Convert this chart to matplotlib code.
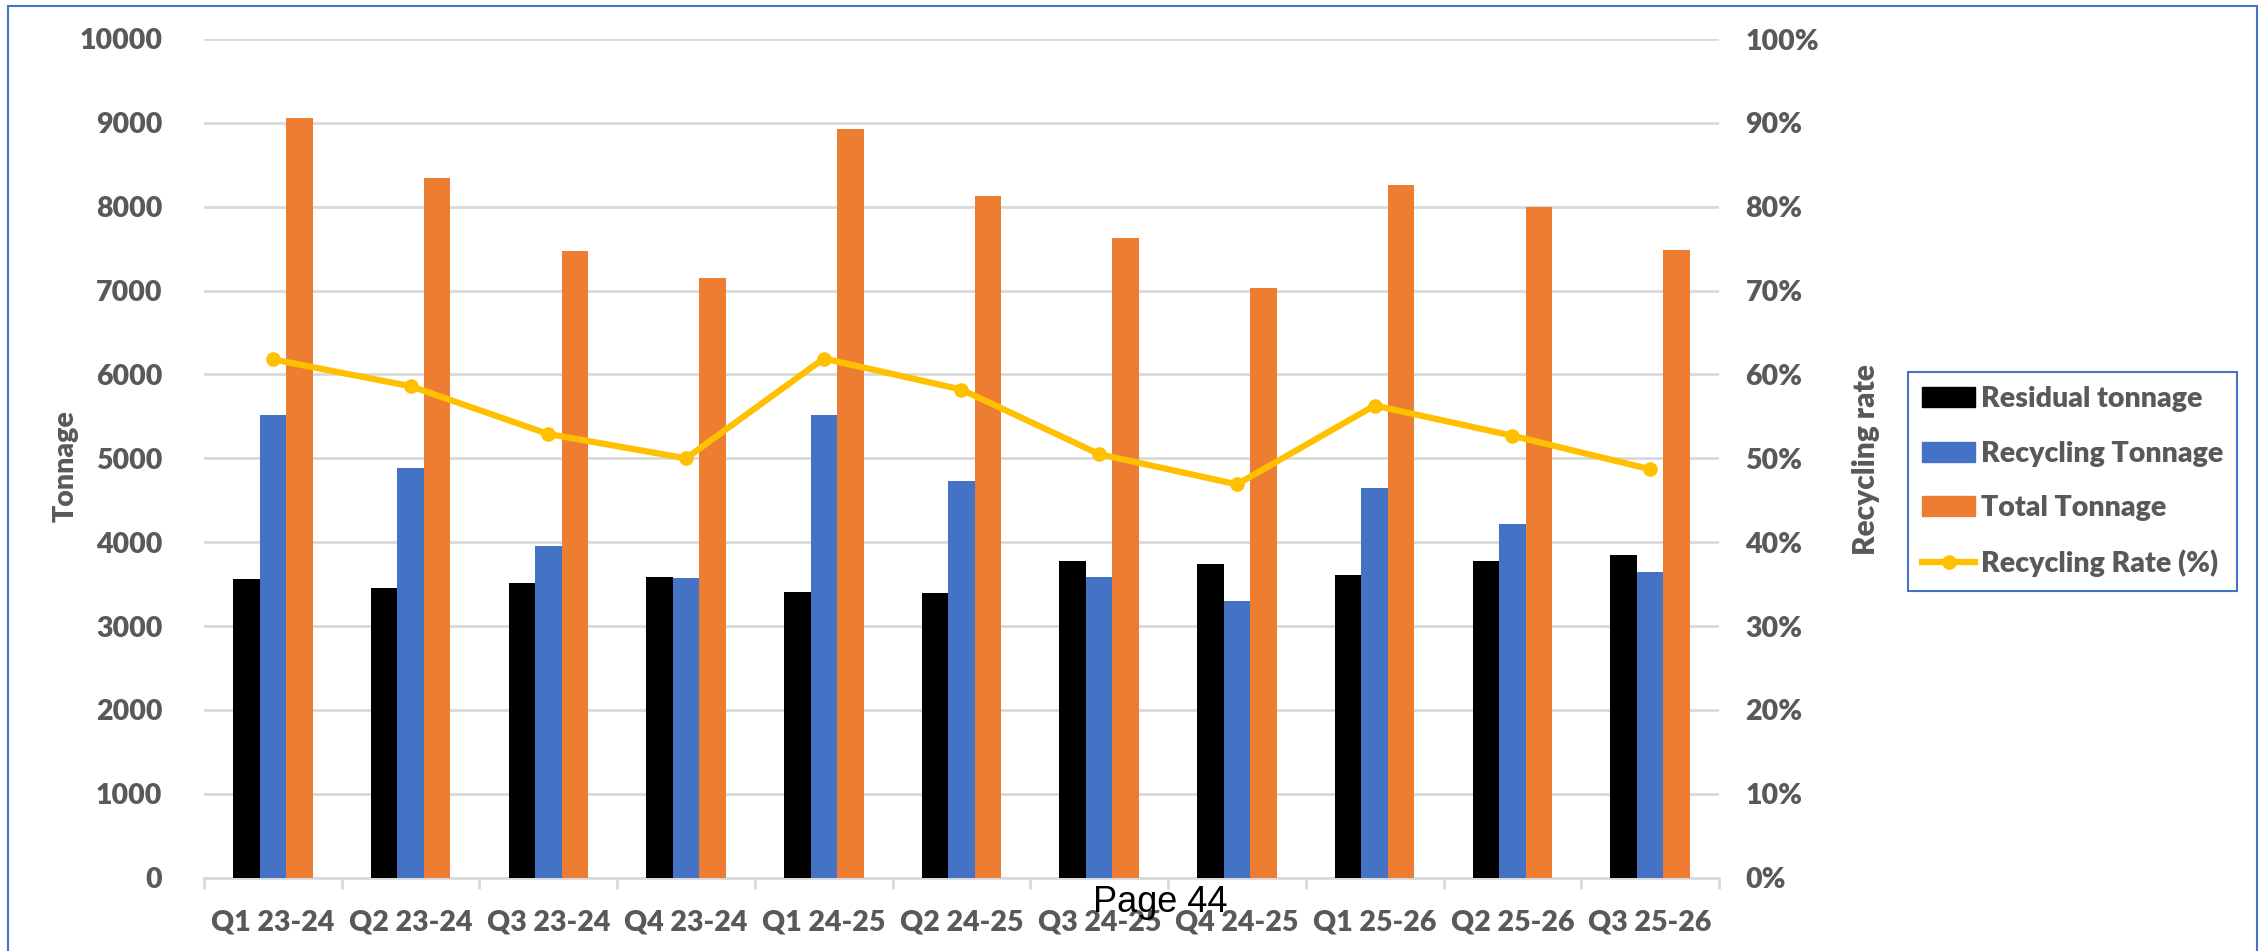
import matplotlib
matplotlib.use("Agg")
import matplotlib.pyplot as plt
from matplotlib.patches import Rectangle
from matplotlib.lines import Line2D
import numpy as np

plt.rcParams['font.family'] = ['Lato', 'DejaVu Sans']

# ---- data -------------------------------------------------------------
quarters = ["Q1 23-24", "Q2 23-24", "Q3 23-24", "Q4 23-24", "Q1 24-25",
            "Q2 24-25", "Q3 24-25", "Q4 24-25", "Q1 25-26", "Q2 25-26",
            "Q3 25-26"]
residual_tonnage = [3556, 3456, 3516, 3583, 3409, 3397, 3774, 3738, 3611, 3778, 3845]
recycling_tonnage = [5512, 4885, 3952, 3575, 5512, 4730, 3587, 3294, 4643, 4218, 3647]
total_tonnage = [9063, 8341, 7468, 7155, 8921, 8123, 7627, 7032, 8254, 7992, 7488]
recycling_rate = [61.8, 58.6, 52.9, 50.0, 61.9, 58.2, 50.5, 46.9, 56.3, 52.7, 48.7]

left_ticks = [0, 1000, 2000, 3000, 4000, 5000, 6000, 7000, 8000, 9000, 10000]
right_ticks = [0, 10, 20, 30, 40, 50, 60, 70, 80, 90, 100]

# ---- style ------------------------------------------------------------
TEXT = "#595959"
GRID = "#D9D9D9"
C_RES = "#000000"
C_REC = "#4472C4"
C_TOT = "#ED7D31"
C_RATE = "#FFC000"
FRAME = "#4472C4"
FS = 20.5
WEIGHT = "heavy"

W, H, DPI = 2262, 951, 100
fig = plt.figure(figsize=(W / DPI, H / DPI), dpi=DPI)
fig.patch.set_facecolor("white")

ax_l, ax_r, ax_t, ax_b = 204, 1719, 39, 877.7
ax = fig.add_axes([ax_l / W, 1 - ax_b / H, (ax_r - ax_l) / W, (ax_b - ax_t) / H])

x = np.arange(len(quarters))
bw = 0.1925
ax.bar(x - bw, residual_tonnage, bw, color=C_RES, zorder=3, label="Residual tonnage")
ax.bar(x, recycling_tonnage, bw, color=C_REC, zorder=3, label="Recycling Tonnage")
ax.bar(x + bw, total_tonnage, bw, color=C_TOT, zorder=3, label="Total Tonnage")

ax.set_xlim(-0.5, len(quarters) - 0.5)
ax.set_ylim(0, 10000)
ax.set_yticks(left_ticks)
ax.set_yticklabels([str(v) for v in left_ticks])
ax.grid(axis="y", color=GRID, linewidth=2, zorder=0)
ax.set_axisbelow(True)
for s in ("left", "right", "top"):
    ax.spines[s].set_visible(False)
ax.spines["bottom"].set_color(GRID)
ax.spines["bottom"].set_linewidth(2)

ax.set_xticks(x)
ax.set_xticklabels(quarters)
ax.set_xticks(np.arange(-0.5, len(quarters)), minor=True)
ax.tick_params(axis="x", which="major", length=0, pad=23, labelsize=FS,
               labelcolor=TEXT)
ax.tick_params(axis="x", which="minor", length=8, width=2, color=GRID)
ax.tick_params(axis="y", length=0, pad=30, labelsize=FS, labelcolor=TEXT)
for lbl in ax.get_xticklabels() + ax.get_yticklabels():
    lbl.set_fontweight(WEIGHT)

ax.set_ylabel("Tonnage", fontsize=FS, fontweight=WEIGHT, color=TEXT)
ax.yaxis.set_label_coords(-0.0825, 0.491)

# ---- recycling rate on the secondary axis ------------------------------
ax2 = ax.twinx()
ax2.plot(x, recycling_rate, color=C_RATE, linewidth=4.5, marker="o",
         markersize=9.5, zorder=4, label="Recycling Rate (%)")
ax2.set_ylim(0, 100)
ax2.set_yticks(right_ticks)
ax2.set_yticklabels([f"{v}%" for v in right_ticks])
ax2.tick_params(axis="y", length=0, pad=19, labelsize=FS, labelcolor=TEXT)
for lbl in ax2.get_yticklabels():
    lbl.set_fontweight(WEIGHT)
for s in ax2.spines.values():
    s.set_visible(False)
ax2.set_ylabel("Recycling rate", fontsize=FS + 1, fontweight=WEIGHT, color=TEXT)
ax2.yaxis.set_label_coords(1.088, 0.498)

# ---- legend -----------------------------------------------------------
handles = [Rectangle((0, 0), 1, 1, color=C_RES),
           Rectangle((0, 0), 1, 1, color=C_REC),
           Rectangle((0, 0), 1, 1, color=C_TOT),
           Line2D([], [], color=C_RATE, linewidth=4.5, marker="o", markersize=9.5)]
labels = ["Residual tonnage", "Recycling Tonnage", "Total Tonnage",
          "Recycling Rate (%)"]
leg = fig.legend(handles, labels, loc="upper left",
                 bbox_to_anchor=(1908 / W, 1 - 372 / H),
                 bbox_transform=fig.transFigure, borderaxespad=0,
                 frameon=True, fancybox=False, framealpha=1,
                 edgecolor=FRAME, prop={"size": FS, "weight": WEIGHT},
                 handlelength=1.85, handletextpad=0.2, labelspacing=1.0,
                 borderpad=0.5)
leg.get_frame().set_linewidth(1.5)
for t in leg.get_texts():
    t.set_color(TEXT)

# ---- page furniture ---------------------------------------------------
fig.text(1160 / W, 1 - 903 / H, "Page 44", fontsize=26, color="black",
         family=["Liberation Sans", "DejaVu Sans"], ha="center", va="center")

frame = Rectangle((8 / W, -0.05), (2257 - 8) / W, 1.05 - 6 / H,
                  transform=fig.transFigure, fill=False, edgecolor=FRAME,
                  linewidth=1.5)
fig.add_artist(frame)

fig.savefig("out.png", dpi=DPI)
